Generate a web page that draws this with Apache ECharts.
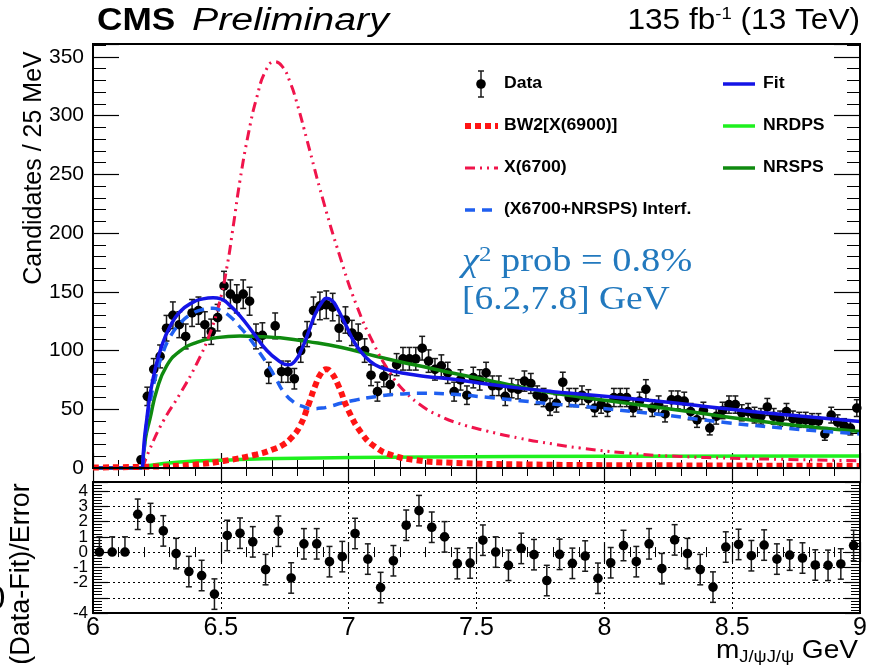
<!DOCTYPE html>
<html>
<head>
<meta charset="utf-8">
<script src="https://cdn.jsdelivr.net/npm/echarts@6/dist/echarts.min.js"></script>
<style>
  html, body { margin: 0; padding: 0; background: #ffffff; }
  #chart { width: 872px; height: 672px; }
</style>
</head>
<body>
<div id="chart"></div>
<script>
// ---- J/psi J/psi invariant-mass spectrum (25 MeV bins, first filled bin at 6.1875 GeV) ----
const firstBinCenter = 6.1875;
const binWidth = 0.025;
const candidates = [
  7, 61, 84, 95, 119, 130, 122, 112, 132, 134,
  122, 116, 128, 155, 148, 144, 148, 142, 112, 113,
  81, 121, 82, 82, 76, 100, 114, 134, 138, 139,
  137, 119, 126, 115, 112, 100, 79, 65, 78, 71,
  88, 93, 93, 93, 102, 91, 84, 87, 81, 65,
  75, 62, 77, 75, 81, 70, 70, 61, 68, 67,
  74, 72, 62, 60, 52, 55, 73, 60, 60, 62,
  59, 51, 54, 51, 60, 60, 60, 51, 57, 67,
  51, 54, 46, 58, 58, 57, 48, 41, 49, 34,
  44, 49, 54, 54, 47, 48, 45, 44, 52, 44,
  42, 48, 42, 41, 41, 40, 40, 29, 45, 39,
  36, 34, 51
];

// ---- (Data-Fit)/Error in 50 MeV bins ----
const firstPullCenter = 6.025;
const pullBinWidth = 0.05;
const pulls = [
  0, 0, 0, 2.48, 2.2, 1.39, -0.1, -1.28, -1.54, -2.76,
  1.09, 1.24, 0.67, -1.15, 1.37, -1.7, 0.54, 0.54, -0.63, -0.3,
  1.22, -0.46, -2.33, -0.57, 1.76, 2.72, 1.63, 1.0, -0.76, -0.72,
  0.78, 0, -0.87, 0.24, -0.17, -1.87, -0.15, -0.74, -0.26, -1.72,
  -0.7, 0.43, -0.63, 0.54, -1.09, 0.8, -0.1, -1.15, -2.3, 0.33,
  0.5, -0.24, 0.46, -0.46, -0.2, -0.39, -0.85, -0.87, -0.78, 0.43
];
const emptyPullBins = 3;   // empty bins only carry an upward error

// ---- fit model curves: [mass GeV, candidates / 25 MeV] ----
const threshold = 6.194;
const belowThreshold = [[6.0, 0], [6.194, 0]];
const fitTotal = [
  [6.194, 0], [6.2, 22], [6.21, 41], [6.223, 62], [6.243, 84], [6.269, 104],
  [6.30, 120], [6.34, 133], [6.39, 141], [6.43, 144], [6.47, 145], [6.5, 144],
  [6.53, 139.5], [6.575, 129.5], [6.627, 115], [6.68, 100], [6.725, 91.5],
  [6.762, 88], [6.79, 91], [6.816, 101], [6.845, 117], [6.869, 131], [6.895, 141],
  [6.914, 144.5], [6.935, 142.5], [6.953, 137], [6.986, 123], [7.025, 106],
  [7.064, 95], [7.103, 88], [7.155, 83.5], [7.234, 80], [7.3, 78],
  [7.41, 75.5], [7.54, 71.5], [7.67, 68], [7.8, 65], [7.9, 63],
  [8.25, 56], [8.45, 51], [8.7, 45.5], [9.0, 39.5]
];
const bw2X6900 = [
  [6.0, 0.5], [6.2, 1], [6.4, 3], [6.51, 6], [6.64, 11.5], [6.7, 15.5], [6.745, 20],
  [6.777, 26], [6.81, 36], [6.843, 54], [6.869, 70], [6.893, 81], [6.912, 84],
  [6.93, 82], [6.96, 70], [6.999, 49], [7.051, 29.5], [7.103, 18.1],
  [7.169, 11], [7.26, 6.8], [7.4, 4.5], [7.7, 3], [8.2, 2.3], [9.0, 1.8]
];
const x6700 = [
  [6.194, 0], [6.22, 15], [6.275, 40], [6.34, 63], [6.406, 89],
  [6.458, 115], [6.495, 141], [6.523, 170], [6.55, 208], [6.575, 245], [6.61, 287],
  [6.64, 315], [6.675, 338], [6.71, 346], [6.74, 342], [6.77, 329], [6.8, 309],
  [6.836, 280], [6.9, 228], [6.966, 180], [7.03, 139], [7.097, 106], [7.162, 81],
  [7.22, 65], [7.292, 52], [7.35, 45], [7.423, 38.5], [7.54, 31.5], [7.67, 25.3],
  [7.8, 20.4], [7.905, 17], [8.1, 12.5], [8.296, 9.8], [8.5, 8.3], [8.688, 7.4], [9.0, 6.2]
];
const interference = [
  [6.194, 0], [6.21, 38], [6.225, 58], [6.245, 78], [6.27, 96], [6.30, 111],
  [6.34, 123], [6.38, 130.5], [6.43, 135], [6.47, 136], [6.50, 134], [6.536, 129],
  [6.575, 120], [6.61, 111], [6.64, 102], [6.692, 85], [6.718, 75], [6.745, 65], [6.785, 56],
  [6.823, 52.2], [6.855, 50.5], [6.895, 51], [6.927, 52.5], [6.973, 55.3], [7.03, 58],
  [7.103, 60.7], [7.19, 62.8], [7.286, 63.6], [7.41, 62.7], [7.54, 60.2], [7.67, 57.3],
  [7.8, 54.5], [7.905, 52.6], [8.2, 46], [8.473, 38.8], [8.7, 34], [9.0, 29]
];
const nrdps = [
  [6.194, 0], [6.2, 1.5], [6.34, 5.2], [6.536, 6.8], [6.73, 8.1],
  [7.3, 9.3], [8.0, 10], [9.0, 10.2]
];
const nrsps = [
  [6.194, 0], [6.205, 25], [6.223, 42], [6.249, 66], [6.288, 87], [6.34, 99.5],
  [6.406, 107], [6.484, 111], [6.575, 112.4], [6.666, 111.8], [6.732, 110.8],
  [6.842, 107.6], [6.973, 102.6], [7.103, 95.4], [7.2, 90.5], [7.299, 86],
  [7.41, 80.6], [7.54, 75], [7.67, 68.9], [7.8, 63.8], [7.905, 60.5], [8.2, 52],
  [8.473, 43.7], [8.7, 37.5], [9.0, 31]
];

// ---- axis ticks ----
const massTicks = [6, 6.5, 7, 7.5, 8, 8.5, 9];
const countTicks = [0, 50, 100, 150, 200, 250, 300, 350];
const pullTicks = [-4, -3, -2, -1, 0, 1, 2, 3, 4];

// ---- assemble plotted points ----
const dataPoints = candidates.map((n, i) => {
  const m = firstBinCenter + i * binWidth;
  const err = Math.sqrt(n);
  return [m, n, err, err];
});
const pullPoints = pulls.map((p, i) => {
  const m = firstPullCenter + i * pullBinWidth;
  return [m, p, i < emptyPullBins ? 0 : 1, 1];
});

const SANS = '"Liberation Sans", Arial, Helvetica, sans-serif';
const SERIF = '"Liberation Serif", "Times New Roman", serif';

const C = {
  fit: '#1414e6',
  bw2: '#ff1414',
  x6700: '#f0144b',
  interf: '#1f5ff0',
  nrdps: '#1ef01e',
  nrsps: '#0f8a0f',
  chi: '#2279be'
};

function errorBarItem(params, api) {
  const x = api.value(0), y = api.value(1);
  const lo = api.value(2), hi = api.value(3);
  const p = api.coord([x, y]);
  const pl = api.coord([x, y - lo]);
  const ph = api.coord([x, y + hi]);
  const cap = 3;
  const st = { stroke: '#1a1a1a', lineWidth: 1.5 };
  const children = [
    { type: 'line', shape: { x1: p[0], y1: pl[1], x2: p[0], y2: ph[1] }, style: st },
    { type: 'line', shape: { x1: p[0] - cap, y1: ph[1], x2: p[0] + cap, y2: ph[1] }, style: st }
  ];
  if (lo > 0) {
    children.push({ type: 'line', shape: { x1: p[0] - cap, y1: pl[1], x2: p[0] + cap, y2: pl[1] }, style: st });
  }
  children.push({ type: 'circle', shape: { cx: p[0], cy: p[1], r: 4.8 }, style: { fill: '#000' } });
  return { type: 'group', children };
}

function curve(name, data, color, width, dash, z, smooth) {
  return {
    name, type: 'line', xAxisIndex: 0, yAxisIndex: 0, data,
    showSymbol: false, smooth: smooth === undefined ? 0.5 : smooth,
    lineStyle: { color, width, type: dash || 'solid', cap: 'butt' },
    z: z || 3, silent: true
  };
}

function massAxis(gridIndex, position, showLabels, split) {
  return {
    type: 'value', gridIndex, position, min: 6, max: 9, interval: 0.5,
    axisLine: { show: false },
    axisTick: { show: true, inside: true, length: gridIndex === 0 ? 15 : 10, lineStyle: { color: '#000', width: 1.2 } },
    minorTick: { show: true, splitNumber: 5, length: gridIndex === 0 ? 8 : 5, lineStyle: { color: '#000', width: 1 } },
    axisLabel: showLabels ? {
      show: true, margin: 3, color: '#000', fontFamily: SANS, fontSize: 25,
      showMinLabel: true, showMaxLabel: true,
      formatter: v => massTicks.includes(+v.toFixed(2)) ? String(+v.toFixed(2)) : ''
    } : { show: false },
    splitLine: split ? { show: true, lineStyle: { color: '#000', width: 1, type: [2, 3] } } : { show: false },
    minorSplitLine: { show: false }
  };
}

function countAxis(position, showLabels) {
  return {
    type: 'value', gridIndex: 0, position, min: 0, max: 361, interval: 50,
    axisLine: { show: false },
    axisTick: { show: true, inside: true, length: 26, lineStyle: { color: '#000', width: 1.2 } },
    minorTick: { show: true, splitNumber: 5, length: 13, lineStyle: { color: '#000', width: 1 } },
    axisLabel: showLabels ? {
      show: true, margin: 9, color: '#000', fontFamily: SANS, fontSize: 21,
      showMinLabel: true,
      formatter: v => countTicks.includes(v) ? String(v) : ''
    } : { show: false },
    splitLine: { show: false }
  };
}

function pullAxis(position, showLabels) {
  return {
    type: 'value', gridIndex: 1, position, min: -4, max: 4.6, interval: 1,
    axisLine: { show: false },
    axisTick: { show: true, inside: true, length: 15, lineStyle: { color: '#000', width: 1.2 } },
    minorTick: { show: true, splitNumber: 5, length: 9, lineStyle: { color: '#000', width: 1 } },
    axisLabel: showLabels ? {
      show: true, margin: 5, color: '#000', fontFamily: SANS, fontSize: 17,
      showMinLabel: true, hideOverlap: false,
      formatter: v => pullTicks.includes(v) ? String(v) : ''
    } : { show: false },
    splitLine: { show: true, lineStyle: { color: '#000', width: 1, type: [2, 3] } }
  };
}

// legend drawn as graphic elements
const legendRows = [84, 126, 168, 210];
const legendGraphics = [
  { type: 'line', shape: { x1: 481, y1: 71, x2: 481, y2: 97 }, style: { stroke: '#1a1a1a', lineWidth: 1.5 } },
  { type: 'line', shape: { x1: 478, y1: 71, x2: 484, y2: 71 }, style: { stroke: '#1a1a1a', lineWidth: 1.5 } },
  { type: 'line', shape: { x1: 478, y1: 97, x2: 484, y2: 97 }, style: { stroke: '#1a1a1a', lineWidth: 1.5 } },
  { type: 'circle', shape: { cx: 481, cy: 84, r: 4.8 }, style: { fill: '#000' } },
  { type: 'line', shape: { x1: 465, y1: legendRows[1], x2: 498, y2: legendRows[1] }, style: { stroke: C.bw2, lineWidth: 6, lineDash: [6, 4] } },
  { type: 'line', shape: { x1: 465, y1: legendRows[2], x2: 498, y2: legendRows[2] }, style: { stroke: C.x6700, lineWidth: 3, lineDash: [10, 5, 2, 5, 2, 5] } },
  { type: 'line', shape: { x1: 465, y1: legendRows[3], x2: 498, y2: legendRows[3] }, style: { stroke: C.interf, lineWidth: 3.5, lineDash: [10, 7] } },
  { type: 'line', shape: { x1: 723, y1: legendRows[0], x2: 755, y2: legendRows[0] }, style: { stroke: C.fit, lineWidth: 3.5 } },
  { type: 'line', shape: { x1: 723, y1: legendRows[1], x2: 755, y2: legendRows[1] }, style: { stroke: C.nrdps, lineWidth: 3.5 } },
  { type: 'line', shape: { x1: 723, y1: legendRows[2], x2: 755, y2: legendRows[2] }, style: { stroke: C.nrsps, lineWidth: 3.5 } }
];
const legendLabels = [
  ['Data', 504, legendRows[0]],
  ['BW2[X(6900)]', 504, legendRows[1]],
  ['X(6700)', 504, legendRows[2]],
  ['(X6700+NRSPS) Interf.', 504, legendRows[3]],
  ['Fit', 763, legendRows[0]],
  ['NRDPS', 763, legendRows[1]],
  ['NRSPS', 763, legendRows[2]]
].map(([t, x, y]) => ({
  type: 'text', x, y, scaleX: 1.1,
  style: { text: t, fill: '#000', font: 'bold 16px ' + SANS, textAlign: 'left', textVerticalAlign: 'middle' }
}));

const textGraphics = [
  { type: 'text', x: 97, y: 21, scaleX: 1.1, style: { text: 'CMS', fill: '#000', font: 'bold 32px ' + SANS, textVerticalAlign: 'middle' } },
  { type: 'text', x: 192, y: 21, scaleX: 1.27, style: { text: 'Preliminary', fill: '#000', font: 'italic 31px ' + SANS, textVerticalAlign: 'middle' } },
  { type: 'text', x: 860, y: 21, scaleX: 1.09, style: {
      text: '{n|135 fb}{s|-1}{n| (13 TeV)}', textAlign: 'right', textVerticalAlign: 'middle',
      rich: {
        n: { fontFamily: SANS, fontSize: 29, fill: '#000' },
        s: { fontFamily: SANS, fontSize: 17, fill: '#000', verticalAlign: 'top', padding: [0, 0, 14, 0] }
      } } },
  { type: 'text', x: 34, y: 168, rotation: Math.PI / 2, style: { text: 'Candidates / 25 MeV', fill: '#000', font: '25px ' + SANS, textAlign: 'center', textVerticalAlign: 'middle' } },
  { type: 'text', x: 22, y: 574, rotation: Math.PI / 2, style: { text: '(Data-Fit)/Error', fill: '#000', font: '27px ' + SANS, textAlign: 'center', textVerticalAlign: 'middle' } },
  { type: 'text', x: -4, y: 600, style: { text: '0', fill: '#000', font: '34px ' + SANS, textAlign: 'center', textVerticalAlign: 'middle' } },
  { type: 'text', x: 858, y: 651, scaleX: 1.08, style: {
      text: '{m|m}{s|J/ψJ/ψ}{m| GeV}', textAlign: 'right', textVerticalAlign: 'middle',
      rich: {
        m: { fontFamily: SANS, fontSize: 26, fill: '#000' },
        s: { fontFamily: SANS, fontSize: 17, fill: '#000', padding: [13, 0, 0, 0] }
      } } },
  { type: 'text', x: 462, y: 262, scaleX: 1.13, style: {
      text: '{c|χ}{s|2}{n| prob = 0.8%}', textVerticalAlign: 'middle',
      rich: {
        c: { fontFamily: SERIF, fontStyle: 'italic', fontSize: 34, fill: C.chi },
        s: { fontFamily: SERIF, fontSize: 22, fill: C.chi, padding: [0, 0, 14, 0] },
        n: { fontFamily: SERIF, fontSize: 34, fill: C.chi }
      } } },
  { type: 'text', x: 462, y: 300, scaleX: 1.1, style: { text: '[6.2,7.8] GeV', fill: C.chi, font: '34px ' + SERIF, textVerticalAlign: 'middle' } }
];

const chart = echarts.init(document.getElementById('chart'), null, { renderer: 'canvas' });
chart.setOption({
  animation: false,
  backgroundColor: '#ffffff',
  grid: [
    { left: 93, top: 44, width: 767, height: 424, show: true, borderColor: '#000', borderWidth: 2, backgroundColor: 'transparent', z: 10 },
    { left: 93, top: 482, width: 767, height: 131, show: true, borderColor: '#000', borderWidth: 2, backgroundColor: 'transparent', z: 10 }
  ],
  xAxis: [
    massAxis(0, 'bottom', false, false),
    massAxis(0, 'top', false, false),
    massAxis(1, 'bottom', true, true),
    massAxis(1, 'top', false, false)
  ],
  yAxis: [
    countAxis('left', true),
    countAxis('right', false),
    pullAxis('left', true),
    pullAxis('right', false)
  ],
  series: [
    {
      name: 'Data', type: 'custom', xAxisIndex: 0, yAxisIndex: 0,
      renderItem: errorBarItem, data: dataPoints, z: 2, silent: true
    },
    curve('NRDPS', nrdps, C.nrdps, 3.5, 'solid', 3),
    curve('NRSPS', nrsps, C.nrsps, 3.5, 'solid', 3),
    curve('NRSPS below threshold', belowThreshold, C.nrsps, 3.5, 'solid', 3, false),
    curve('X(6700)', x6700, C.x6700, 3, [10, 5, 2, 5, 2, 5], 3),
    curve('(X6700+NRSPS) Interf.', interference, C.interf, 3.5, [10, 7], 3),
    curve('BW2[X(6900)]', bw2X6900, C.bw2, 6, [6, 4], 4),
    curve('Fit', fitTotal, C.fit, 3.5, 'solid', 5),
    curve('Fit below threshold', belowThreshold, C.fit, 3.5, 'solid', 3, false),
    {
      name: 'Pull', type: 'custom', xAxisIndex: 2, yAxisIndex: 2,
      renderItem: errorBarItem, data: pullPoints, z: 5, silent: true
    }
  ],
  graphic: { elements: [...legendGraphics, ...legendLabels, ...textGraphics] }
});
</script>
</body>
</html>
